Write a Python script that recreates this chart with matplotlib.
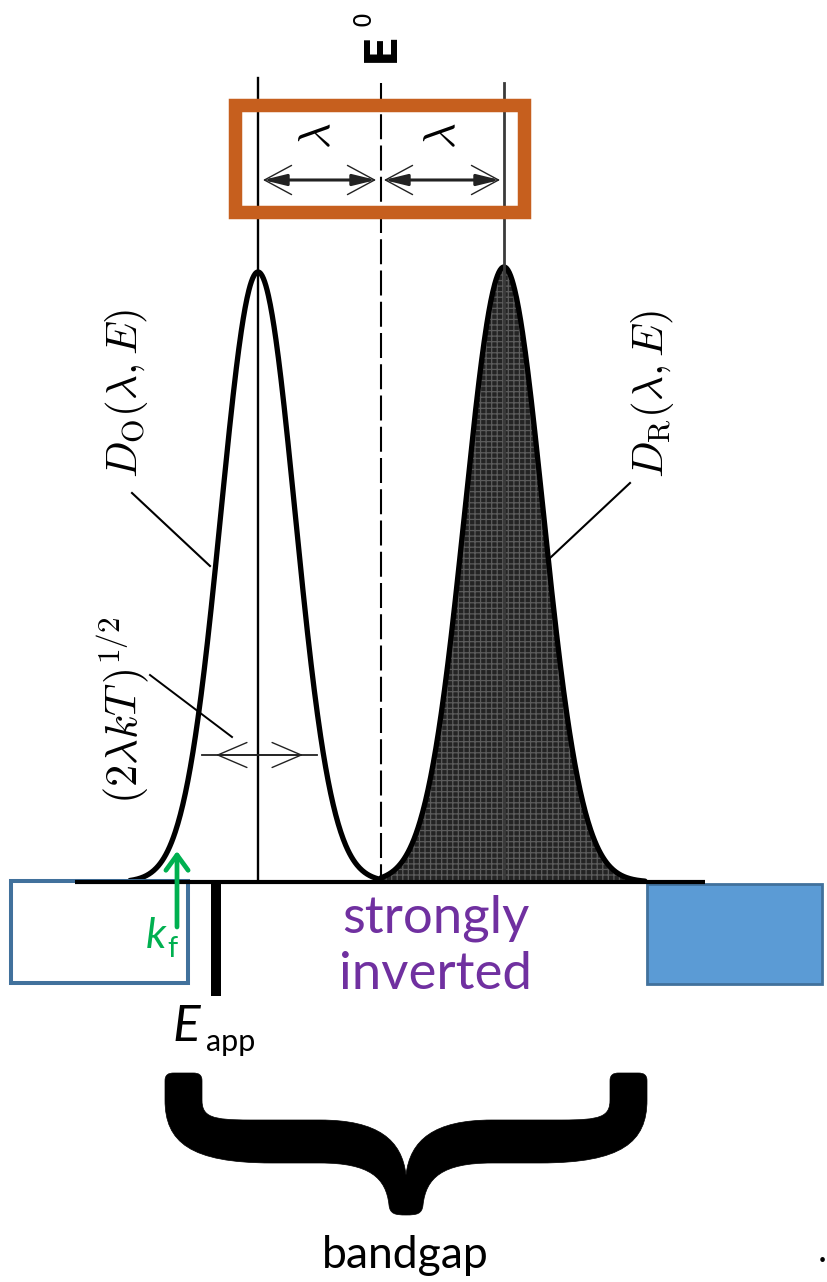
import numpy as np
import matplotlib
matplotlib.use("Agg")
import matplotlib.pyplot as plt
from matplotlib.patches import Rectangle, FancyArrowPatch, PathPatch
from matplotlib.path import Path

plt.rcParams['mathtext.fontset'] = 'cm'

# ---- diagram parameters (pixel space of the original figure) ----
baseline_y = 882
peak_centers = [258, 504]          # D_O peak, D_R peak
peak_heights = [610, 615]
peak_sigmas = [37, 39]
curve_ranges = [(130, 381), (381, 645)]
e0_x = 381
line_tops = [78, 83]               # solid vertical lines
labels_rot = ["$D_{\\rm O}(\\lambda,E)$", "$D_{\\rm R}(\\lambda,E)$"]
kt_label = "$(2\\lambda kT\\,)^{1/2}$"
mid_labels = ["strongly", "inverted"]
bottom_label = "bandgap"

C_ORANGE = '#C65F1E'
C_BLUE_EDGE = '#41719C'
C_BLUE_FILL = '#5B9BD5'
C_GREEN = '#00B050'
C_PURPLE = '#7030A0'

fig = plt.figure(figsize=(8.27, 12.82), dpi=100)
ax = fig.add_axes([0, 0, 1, 1])
ax.set_xlim(0, 827)
ax.set_ylim(1282, 0)
ax.axis('off')

def gauss(x, c, h, s):
    return baseline_y - h * np.exp(-(x - c) ** 2 / (2 * s ** 2))

# right (filled) curve
xr = np.linspace(*curve_ranges[1], 400)
yr = gauss(xr, peak_centers[1], peak_heights[1], peak_sigmas[1])
ax.fill_between(xr, baseline_y, yr, facecolor='#242424', lw=0, zorder=2)
plt.rcParams['hatch.linewidth'] = 0.9
ax.fill_between(xr, baseline_y, yr, facecolor='none', edgecolor='#5c5c5c',
                hatch='+++', lw=0, zorder=2.1)
ax.plot(xr, yr, color='black', lw=3.8, zorder=3, solid_capstyle='round')

# left curve
xl = np.linspace(*curve_ranges[0], 400)
yl = gauss(xl, peak_centers[0], peak_heights[0], peak_sigmas[0])
ax.plot(xl, yl, color='black', lw=3.8, zorder=3, solid_capstyle='round')

# vertical lines
ax.plot([peak_centers[0]] * 2, [line_tops[0], baseline_y], color='black', lw=1.7, zorder=4)
ax.plot([peak_centers[1]] * 2, [line_tops[1], baseline_y], color='#3a3a3a', lw=2.0, zorder=4)
ax.plot([e0_x] * 2, [83, baseline_y], color='black', lw=1.5,
        linestyle=(0, (12, 3)), zorder=4)

# rectangles (bands)
ax.add_patch(Rectangle((10.5, 880.5), 177, 102, fc='white', ec=C_BLUE_EDGE, lw=2.9, zorder=5))
ax.add_patch(Rectangle((647, 884), 175, 100, fc=C_BLUE_FILL, ec=C_BLUE_EDGE, lw=2.0, zorder=5))

# baseline
ax.plot([75, 705], [baseline_y, baseline_y], color='black', lw=3.0, zorder=6,
        solid_capstyle='butt')

# E_app bar
ax.add_patch(Rectangle((211, 880), 10, 116, fc='black', ec='none', zorder=6))

# orange box
ax.add_patch(Rectangle((235, 104.5), 288.5, 107, fill=False, ec=C_ORANGE, lw=9.7,
                       joinstyle='miter', zorder=7))

def dbl_arrow(x0, x1, y, open_len=1.3, open_w=0.7, lw_shaft=2.2):
    ax.add_patch(FancyArrowPatch((x0, y), (x1, y),
                 arrowstyle='<|-|>,head_length=0.9,head_width=0.22',
                 mutation_scale=15, color='#222222', lw=lw_shaft, zorder=8,
                 shrinkA=0, shrinkB=0))
    ax.add_patch(FancyArrowPatch((x0, y), (x1, y),
                 arrowstyle='<->,head_length=%g,head_width=%g' % (open_len, open_w),
                 mutation_scale=15, color='#222222', lw=1.0, zorder=8,
                 shrinkA=0, shrinkB=0))

# lambda arrows
dbl_arrow(263, 376, 180)
dbl_arrow(384, 500, 180)
ax.text(318, 136, "$\\lambda$", rotation=90, fontsize=32, ha='center', va='center', zorder=9)
ax.text(443, 136, "$\\lambda$", rotation=90, fontsize=32, ha='center', va='center', zorder=9)

# E0 label
ax.text(381, 47, "E", rotation=90, fontsize=32, fontweight='bold', family='DejaVu Sans',
        ha='center', va='center')
ax.text(363, 19, "0", rotation=90, fontsize=17, family='DejaVu Sans',
        ha='center', va='center')

# width arrow (2 lambda k T)^1/2
ax.plot([202, 317], [755, 755], color='#222222', lw=1.3, zorder=8)
ax.add_patch(FancyArrowPatch((216, 755), (303, 755),
             arrowstyle='<->,head_length=1.4,head_width=0.6',
             mutation_scale=15, color='#222222', lw=1.0, zorder=8, shrinkA=0, shrinkB=0))

# rotated labels and pointers
ax.text(127, 393, labels_rot[0], rotation=90, fontsize=31, ha='center', va='center')
ax.plot([132, 210], [493, 566], color='black', lw=1.5)
ax.text(652, 394, labels_rot[1], rotation=90, fontsize=31, ha='center', va='center')
ax.plot([630, 550], [483, 558], color='black', lw=1.5)
ax.text(123, 710, kt_label, rotation=90, fontsize=32, ha='center', va='center')
ax.plot([150, 232], [675, 737], color='black', lw=1.4, zorder=8)

# green k_f arrow
ax.add_patch(FancyArrowPatch((177, 927), (177, 851),
             arrowstyle='->,head_length=0.55,head_width=0.4',
             mutation_scale=20, color=C_GREEN, lw=3.4, zorder=9, shrinkA=0, shrinkB=0))
ax.text(146, 948, "k", fontsize=31, style='italic', family='Lato', color=C_GREEN,
        ha='left', va='baseline', zorder=9)
ax.text(167, 957, "f", fontsize=21, family='Lato', color=C_GREEN,
        ha='left', va='baseline', zorder=9)

# E_app
ax.text(172, 1041, "E", fontsize=37, style='italic', family='Lato', color='black',
        ha='left', va='baseline')
ax.text(206, 1051, "app", fontsize=22, family='Lato', color='black',
        ha='left', va='baseline')

# strongly inverted
ax.text(436, 933, mid_labels[0], fontsize=38, family='Lato', color=C_PURPLE,
        ha='center', va='baseline')
ax.text(435, 989, mid_labels[1], fontsize=38, family='Lato', color=C_PURPLE,
        ha='center', va='baseline')

# curly brace (filled outline)
xc = 406
def mx(p):
    return (2 * xc - p[0], p[1])
verts = []
codes = []
def move(p):
    verts.append(p); codes.append(Path.MOVETO)
def line(p):
    verts.append(p); codes.append(Path.LINETO)
def curve(c1, c2, p):
    verts.extend([c1, c2, p]); codes.extend([Path.CURVE4] * 3)

move((165, 1081))
curve((165, 1075), (168, 1073), (174, 1073))
line((193, 1073))
curve((199, 1073), (202, 1075), (202, 1081))
line((202, 1100))
curve((202, 1117), (212, 1120), (250, 1120))
line((320, 1120))
curve((378, 1120), (402, 1140), (406, 1175))
# mirrored side
curve(mx((402, 1140)), mx((378, 1120)), mx((320, 1120)))
line(mx((250, 1120)))
curve(mx((212, 1120)), mx((202, 1117)), mx((202, 1100)))
line(mx((202, 1081)))
curve(mx((202, 1075)), mx((199, 1073)), mx((193, 1073)))
line(mx((174, 1073)))
curve(mx((168, 1073)), mx((165, 1075)), mx((165, 1081)))
line(mx((165, 1100)))
curve(mx((165, 1142)), mx((190, 1163)), mx((272, 1163)))
line(mx((320, 1163)))
curve(mx((370, 1163)), mx((386, 1178)), mx((389, 1205)))
curve(mx((390, 1214)), mx((395, 1215)), (xc, 1215))
curve((395, 1215), (390, 1214), (389, 1205))
curve((386, 1178), (370, 1163), (320, 1163))
line((272, 1163))
curve((190, 1163), (165, 1142), (165, 1100))
line((165, 1081))
verts.append((0, 0)); codes.append(Path.CLOSEPOLY)
ax.add_patch(PathPatch(Path(verts, codes), fc='black', ec='black', lw=0.5))

ax.text(405, 1268, bottom_label, fontsize=32, family='Lato', color='black',
        ha='center', va='baseline')
ax.text(822, 1262, ".", fontsize=22, fontweight='bold', family='Lato', color='black',
        ha='center', va='baseline')

fig.savefig("out.png", dpi=100)
